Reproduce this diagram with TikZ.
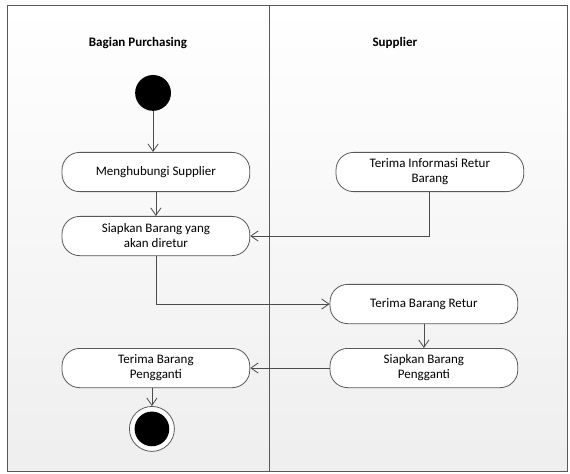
\documentclass[tikz,border=0pt]{standalone}
\usepackage{fontspec}
\setmainfont{Carlito}
\usetikzlibrary{arrows.meta}

\begin{document}
\begin{tikzpicture}[
    act/.style={draw=gray!70!black, line width=0.8pt, fill=white, rounded corners=0.62cm,
        minimum width=6.6cm, minimum height=1.38cm, align=center, inner sep=1pt,
        font=\fontsize{13}{15}\selectfont},
    lane/.style={font=\fontsize{13}{15}\selectfont\bfseries},
    flow/.style={-{Straight Barb[length=2.6mm, width=3.6mm]}, draw=gray!60!black, line width=0.8pt}
]
\useasboundingbox (0,0) rectangle (20.035,16.626);

% Swimlane frame
\shade[top color=white, bottom color=gray!13] (0.28,0.07) rectangle (19.93,16.415);
\draw[gray!70!black, line width=1pt] (0.28,0.07) rectangle (19.93,16.415);
\draw[gray!70!black, line width=1pt] (9.49,0.07) -- (9.49,16.415);

\node[lane] (lp) at (4.85, 15.11) {Bagian Purchasing};
\node[lane] (ls) at (13.88, 15.11) {Supplier};

% Start and end
\node[circle, fill=black, minimum size=1.26cm, inner sep=0pt] (start) at (5.38, 13.36) {};
\node[circle, draw=gray!70!black, line width=0.8pt, fill=white, minimum size=1.58cm, inner sep=0pt] (fin) at (5.34, 1.55) {};
\node[circle, fill=black, minimum size=1.22cm, inner sep=0pt] at (fin) {};

% Activities - Bagian Purchasing
\node[act] (a1) at (5.48, 10.58) {Menghubungi Supplier};
\node[act] (a2) at (5.48, 8.33) {Siapkan Barang yang\\akan diretur};
\node[act] (a3) at (5.48, 3.69) {Terima Barang\\Pengganti};

% Activities - Supplier
\node[act] (s1) at (15.11, 10.58) {Terima Informasi Retur\\Barang};
\node[act] (s2) at (14.90, 5.94) {Terima Barang Retur};
\node[act] (s3) at (14.90, 3.69) {Siapkan Barang\\Pengganti};

% Flows
\draw[flow] (start.south) -- (start.south |- a1.north);
\draw[flow] (a1) -- (a2);
\draw[flow] (s1.south) |- (a2.east);
\draw[flow] (a2.south) |- (s2.west);
\draw[flow] (s2) -- (s3);
\draw[flow] (s3) -- (a3);
\draw[flow] (fin |- a3.south) -- (fin.north);

\end{tikzpicture}
\end{document}
